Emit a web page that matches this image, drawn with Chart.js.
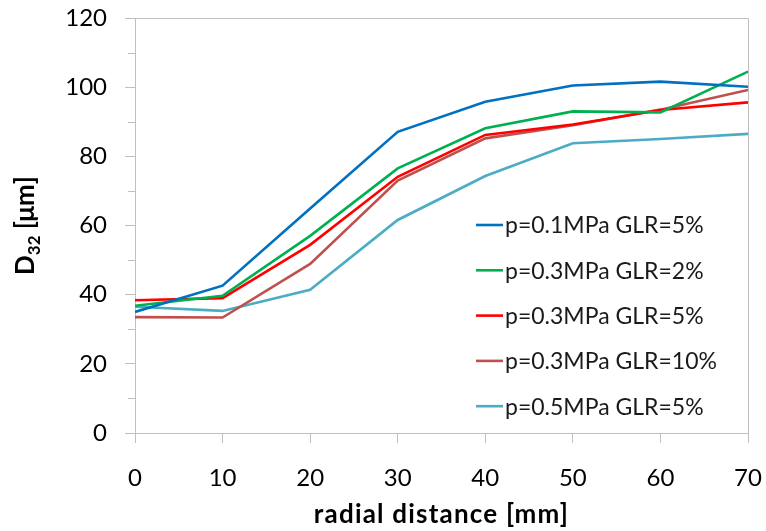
<!doctype html>
<html>
<head>
    <title>D32 vs radial distance</title>
    <meta charset="utf-8">
    <style>
        html, body {
            margin: 0;
            padding: 0;
            background: #fff;
        }

        .chart {
            height: 531px;
            position: relative;
            width: 766px;
        }
    </style>
    <script src="https://cdn.jsdelivr.net/npm/chart.js@4/dist/chart.umd.min.js"></script>
    <script>
        const radialDistance = [0, 10, 20, 30, 40, 50, 60, 70];
        const seriesLabels = [
            "p=0.1MPa GLR=5%",
            "p=0.3MPa GLR=2%",
            "p=0.3MPa GLR=5%",
            "p=0.3MPa GLR=10%",
            "p=0.5MPa GLR=5%",
        ];
        const p01Glr5 = [35.0, 42.6, 64.9, 87.1, 95.8, 100.5, 101.6, 100.1];
        const p03Glr2 = [36.8, 39.7, 57.0, 76.5, 88.1, 93.0, 92.7, 104.5];
        const p03Glr5 = [38.4, 39.0, 54.4, 74.1, 86.2, 89.2, 93.4, 95.6];
        const p03Glr10 = [33.5, 33.4, 48.9, 73.0, 85.2, 89.0, 93.5, 99.2];
        const p05Glr5 = [36.5, 35.3, 41.4, 61.6, 74.3, 83.8, 85.0, 86.5];
        const seriesColors = ["#0070c0", "#00b050", "#ff0000", "#c0504d", "#4bacc6"];
        const yTicks = [0, 20, 40, 60, 80, 100, 120];

        window.addEventListener("DOMContentLoaded", function () {
            "use strict";

            let font = "Lato";
            let axisColor = "#bfbfbf";
            let seriesData = [p01Glr5, p03Glr2, p03Glr5, p03Glr10, p05Glr5];

            let datasets = [];
            for (let i = 0; i < seriesData.length; i++) {
                datasets.push({
                    label: seriesLabels[i],
                    data: radialDistance.map(function (x, j) {
                        return {x: x, y: seriesData[i][j]};
                    }),
                    borderColor: seriesColors[i],
                    borderWidth: 2.6,
                    pointRadius: 0,
                    tension: 0,
                    fill: false,
                });
            }

            // box round the plot, short minor ticks, titles and the legend inside the plot
            let extras = {
                id: "extras",
                afterDraw: function (chart) {
                    let ctx = chart.ctx;
                    let area = chart.chartArea;
                    let yScale = chart.scales.y;

                    ctx.save();
                    ctx.strokeStyle = axisColor;
                    ctx.lineWidth = 1;
                    ctx.beginPath();
                    ctx.moveTo(area.left, area.top + 0.5);
                    ctx.lineTo(area.right + 0.5, area.top + 0.5);
                    ctx.lineTo(area.right + 0.5, area.bottom);
                    ctx.stroke();

                    for (let v = 10; v < 120; v += 20) {
                        let py = Math.round(yScale.getPixelForValue(v)) + 0.5;
                        ctx.beginPath();
                        ctx.moveTo(area.left - 7, py);
                        ctx.lineTo(area.left, py);
                        ctx.stroke();
                    }

                    // y title with subscript
                    ctx.fillStyle = "#000";
                    ctx.translate(34, (area.top + area.bottom) / 2);
                    ctx.rotate(-Math.PI / 2);
                    ctx.textBaseline = "alphabetic";
                    let bigFont = "bold 26px " + font;
                    let subFont = "bold 17px " + font;
                    ctx.font = bigFont;
                    let wD = ctx.measureText("D").width;
                    let wRest = ctx.measureText(" [μm]").width;
                    ctx.font = subFont;
                    let wSub = ctx.measureText("32").width;
                    let x0 = -(wD + wSub + wRest) / 2;
                    ctx.font = bigFont;
                    ctx.fillText("D", x0, 0);
                    ctx.font = subFont;
                    ctx.fillText("32", x0 + wD, 6);
                    ctx.font = bigFont;
                    ctx.fillText(" [μm]", x0 + wD + wSub, 0);
                    ctx.restore();

                    ctx.save();
                    ctx.fillStyle = "#000";
                    ctx.font = "bold 26px " + font;
                    ctx.letterSpacing = "1.2px";
                    ctx.textAlign = "center";
                    ctx.textBaseline = "middle";
                    ctx.fillText("radial distance [mm]", (area.left + area.right) / 2, 515);
                    ctx.restore();

                    ctx.save();
                    ctx.font = "23px " + font;
                    ctx.textBaseline = "middle";
                    ctx.lineWidth = 2.6;
                    for (let i = 0; i < chart.data.datasets.length; i++) {
                        let ds = chart.data.datasets[i];
                        let ly = 225 + i * 45.3;
                        ctx.strokeStyle = ds.borderColor;
                        ctx.beginPath();
                        ctx.moveTo(476, ly);
                        ctx.lineTo(503, ly);
                        ctx.stroke();
                        ctx.fillStyle = "#1a1a1a";
                        ctx.fillText(ds.label, 505, ly + 1);
                    }
                    ctx.restore();
                },
            };

            new Chart(document.querySelector("[data-output-chart]"), {
                type: "line",
                data: {datasets: datasets},
                plugins: [extras],
                options: {
                    responsive: false,
                    animation: false,
                    layout: {padding: {top: 18, right: 18, left: 0, bottom: 0}},
                    plugins: {
                        legend: {display: false},
                        tooltip: {enabled: false},
                    },
                    scales: {
                        x: {
                            type: "linear",
                            min: 0,
                            max: 70,
                            afterFit: function (scale) {
                                scale.height = 98;
                                scale.paddingLeft = 0;
                                scale.paddingRight = 0;
                            },
                            ticks: {
                                stepSize: 10,
                                color: "#000",
                                padding: 21,
                                font: {family: font, size: 24},
                            },
                            grid: {
                                drawOnChartArea: false,
                                tickLength: 10,
                                color: axisColor,
                            },
                            border: {color: axisColor},
                        },
                        y: {
                            min: 0,
                            max: 120,
                            afterFit: function (scale) {
                                scale.width = 135;
                                scale.paddingTop = 0;
                                scale.paddingBottom = 0;
                            },
                            afterBuildTicks: function (scale) {
                                scale.ticks = yTicks.map(function (v) {
                                    return {value: v};
                                });
                            },
                            ticks: {
                                color: "#000",
                                padding: 18,
                                font: {family: font, size: 24},
                            },
                            grid: {
                                drawOnChartArea: false,
                                tickLength: 10,
                                color: axisColor,
                            },
                            border: {color: axisColor},
                        },
                    },
                },
            });
        });
    </script>
</head>
<body>
<div class="chart">
    <canvas data-output-chart width="766" height="531"></canvas>
</div>
</body>
</html>
